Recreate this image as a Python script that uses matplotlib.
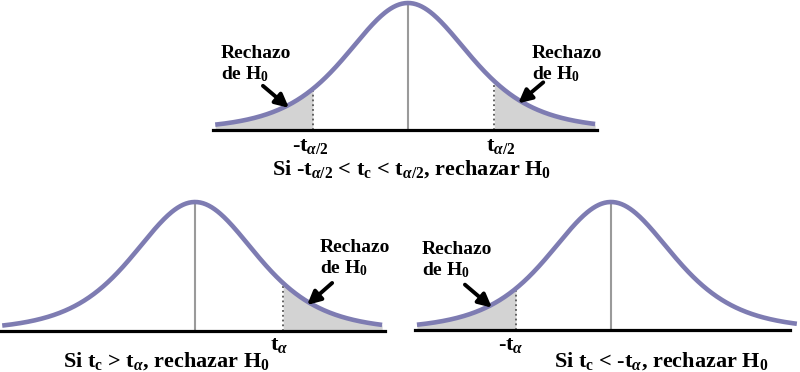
import numpy as np
import matplotlib
matplotlib.use("Agg")
import matplotlib.pyplot as plt

plt.rcParams['font.family'] = ['Liberation Serif', 'DejaVu Serif']
plt.rcParams['font.weight'] = 'bold'
plt.rcParams['mathtext.fontset'] = 'custom'
plt.rcParams['mathtext.rm'] = 'Liberation Serif:bold'
plt.rcParams['mathtext.it'] = 'Liberation Serif:bold:italic'
plt.rcParams['mathtext.bf'] = 'Liberation Serif:bold'
plt.rcParams['mathtext.default'] = 'rm'

# --- data (t units) ---
dof = 5
curve_ranges = [(-3.06, 2.97), (-3.06, 2.97), (-3.08, 2.95)]
base_ranges = [(-3.1, 3.0), (-3.1, 3.02), (-3.11, 2.84)]
critical = [(-1.51, 1.37), (1.40,), (-1.51,)]
reject_tails = [('left', 'right'), ('right',), ('left',)]
arrow_targets = [(-1.89, 1.75), (1.78,), (-1.89,)]
crit_labels = [(r'-t$_{\mathit{\alpha}/2}$', r't$_{\mathit{\alpha}/2}$'),
               (r't$_{\mathit{\alpha}}$',),
               (r'-t$_{\mathit{\alpha}}$',)]
captions = [r'Si -t$_{\mathit{\alpha}/2}$ < t$_c$ < t$_{\mathit{\alpha}/2}$, rechazar H$_0$',
            r'Si t$_c$ > t$_{\mathit{\alpha}}$, rechazar H$_0$',
            r'Si t$_c$ < -t$_{\mathit{\alpha}}$, rechazar H$_0$']

CURVE = '#7e7cb2'
FILL = '#d3d3d3'
W, H = 800, 372
S = 63.0  # px per t unit


def tpdf(x):
    # density relative to its peak
    return (1 + np.asarray(x) ** 2 / dof) ** (-(dof + 1) / 2)


def fx(px):
    return px / W


def fy(py):
    return 1 - py / H


fig = plt.figure(figsize=(8, 3.72), dpi=100)

# panel placement in pixels: centre x, baseline y, peak y
layout = [(408, 130, 3), (195, 331, 202), (611, 330, 202)]
# (text left, first baseline) for "Rechazo de H0", arrow tail offsets
text_pos = [((221, 58), (532, 58)), ((320, 252),), ((422, 254),)]
arrow_off = [((-26, 22), (25, 21)), ((25, 22),), ((-27, 23),)]
label_pos = [((292, 151), (486, 151)), ((270, 350),), ((498, 350),)]
caption_pos = [(412, 175), (167, 367), (661, 367)]

for i, (cx, by, py) in enumerate(layout):
    lo, hi = -3.5, 3.5
    ax = fig.add_axes([fx(cx + lo * S), fy(by), (hi - lo) * S / W, (by - py) / H])
    ax.set_xlim(lo, hi)
    ax.set_ylim(0, 1)
    ax.axis('off')

    x = np.linspace(curve_ranges[i][0], curve_ranges[i][1], 400)
    y = tpdf(x)

    # shaded rejection regions
    for c, side in zip(critical[i], reject_tails[i]):
        m = x <= c if side == 'left' else x >= c
        xs = np.concatenate([[c], x[m]]) if side == 'right' else np.concatenate([x[m], [c]])
        ax.fill_between(xs, 0, tpdf(xs), color=FILL, lw=0, zorder=1)
        ax.plot([c, c], [0, tpdf(c)], color='#555555', ls=':', lw=1.3, zorder=2)

    ax.plot([0, 0], [0, 1], color='#9a9a9a', lw=1.5, zorder=2)
    ax.plot(x, y, color=CURVE, lw=3.3, zorder=3, solid_capstyle='butt', clip_on=False)
    ax.plot(base_ranges[i], [0, 0], color='black', lw=2.3, zorder=4, clip_on=False)

    for t, (ox, oy) in zip(arrow_targets[i], arrow_off[i]):
        ax.annotate('', xy=(t, tpdf(t) * 0.88), xytext=(ox, oy),
                    textcoords='offset pixels',
                    arrowprops=dict(arrowstyle='-|>', color='black', lw=2.8,
                                    mutation_scale=20, shrinkA=0, shrinkB=0),
                    zorder=5, annotation_clip=False)

    for (tx, ty) in text_pos[i]:
        fig.text(fx(tx), fy(ty), 'Rechazo', fontsize=14, fontweight='bold',
                 ha='left', va='baseline')
        fig.text(fx(tx), fy(ty + 21), r'de H$_0$', fontsize=14, fontweight='bold',
                 ha='left', va='baseline')

    for lab, (lx, ly) in zip(crit_labels[i], label_pos[i]):
        fig.text(fx(lx), fy(ly), lab, fontsize=16, fontweight='bold',
                 ha='left', va='baseline')

    cx_t, cy_t = caption_pos[i]
    fig.text(fx(cx_t), fy(cy_t), captions[i], fontsize=16, fontweight='bold',
             ha='center', va='baseline')

fig.savefig('out.png', dpi=100, facecolor='white')
